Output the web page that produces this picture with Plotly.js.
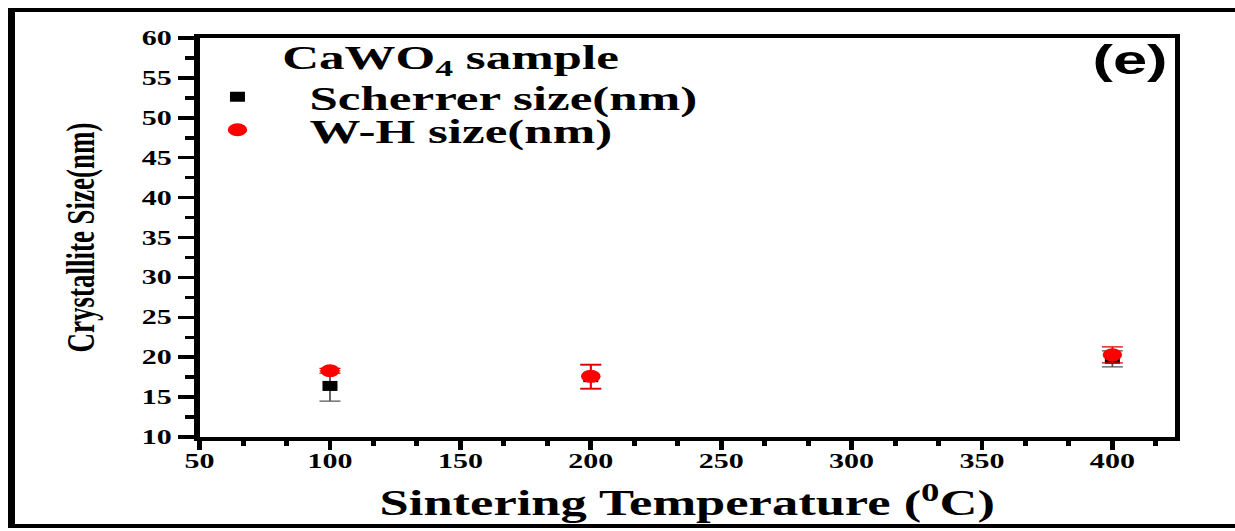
<!DOCTYPE html>
<html>
<head>
<meta charset="utf-8">
<script src="https://cdn.plot.ly/plotly-3.0.1.min.js"></script>
<style>
  html, body { margin: 0; padding: 0; background: #fff; }
  body { width: 1235px; height: 531px; position: relative; overflow: hidden; }
  #frame { position: absolute; left: 8px; top: 8px; right: 0; height: 520px; box-sizing: border-box;
           border-top: 4px solid #000; border-left: 7px solid #000; border-bottom: 4px solid #000; }
  #plot { position: absolute; left: 0; top: 0; width: 823px; height: 531px;
          transform: scaleX(1.5006); transform-origin: 0 0; }
</style>
</head>
<body>
<div id="frame"></div>
<div id="plot"></div>
<script>
// Data
const temperatures = [100, 200, 400];
const scherrerSize = [16.4, 17.5, 19.8];
const scherrerErr  = [1.9, 1.5, 1.0];
const whSize       = [18.3, 17.6, 20.3];
const whErr        = [0.3, 1.5, 1.0];
const seriesNames  = ['Scherrer size(nm)', 'W-H size(nm)'];
const sampleLabel  = 'CaWO<sub>4</sub> sample';
const panelLabel   = '(e)';

const serif = '"Liberation Serif", "Times New Roman", serif';

const traces = [
  {
    x: temperatures, y: scherrerSize, name: seriesNames[0], type: 'scatter', mode: 'markers',
    marker: { symbol: 'square', size: 10, color: '#000000' },
    error_y: { type: 'data', array: scherrerErr, visible: true, color: '#555555', thickness: 1.2, width: 7 },
    legend: 'legend'
  },
  {
    x: temperatures, y: whSize, name: seriesNames[1], type: 'scatter', mode: 'markers',
    marker: { symbol: 'circle', size: 13, color: '#ff0000' },
    error_y: { type: 'data', array: whErr, visible: true, color: '#e00000', thickness: 1.2, width: 7 },
    legend: 'legend2'
  }
];

const legendCommon = {
  font: { family: serif, size: 34, weight: 'bold', color: '#000' },
  bgcolor: 'rgba(0,0,0,0)', borderwidth: 0, itemwidth: 86,
  xanchor: 'left', yanchor: 'middle', itemclick: false
};

const layout = {
  width: 823, height: 531,
  margin: { l: 133, r: 40, t: 38, b: 94, pad: 0 },
  paper_bgcolor: 'rgba(0,0,0,0)', plot_bgcolor: 'rgba(0,0,0,0)',
  showlegend: true,
  legend: Object.assign({}, legendCommon, { x: -0.035, y: 0.852 }),
  legend2: Object.assign({}, legendCommon, { x: -0.035, y: 0.769 }),
  xaxis: {
    range: [50, 424], tick0: 50, dtick: 50, ticks: 'outside', ticklen: 9, tickwidth: 3.3, tickcolor: '#000',
    minor: { dtick: 50 / 3, ticks: 'outside', ticklen: 5, tickwidth: 3.3, tickcolor: '#000' },
    showline: true, linewidth: 4, linecolor: '#000', mirror: true, showgrid: false, zeroline: false,
    tickfont: { family: serif, size: 20, weight: 'bold', color: '#000' },
    ticklabelstandoff: -6,
    title: { text: 'Sintering Temperature (<sup>0</sup>C)', font: { family: serif, size: 35, weight: 'bold', color: '#000' }, standoff: 21 },
    automargin: true
  },
  yaxis: {
    range: [10, 60], tick0: 10, dtick: 5, ticks: 'outside', ticklen: 11, tickwidth: 3.5, tickcolor: '#000',
    minor: { dtick: 2.5, ticks: 'outside', ticklen: 6, tickwidth: 3.5, tickcolor: '#000' },
    showline: true, linewidth: 3.5, linecolor: '#000', mirror: true, showgrid: false, zeroline: false,
    tickfont: { family: serif, size: 20, weight: 'bold', color: '#000' },
    title: { text: 'Crystallite Size(nm)', font: { family: serif, size: 27, weight: 'bold', color: '#000' }, standoff: 24 },
    automargin: true
  },
  annotations: [
    { text: sampleLabel, xref: 'paper', yref: 'paper', x: 0.082, y: 0.945, xanchor: 'left', yanchor: 'middle',
      showarrow: false, font: { family: serif, size: 34, weight: 'bold', color: '#000' } },
    { text: panelLabel, xref: 'paper', yref: 'paper', x: 0.995, y: 0.945, xanchor: 'right', yanchor: 'middle',
      showarrow: false, font: { family: '"Liberation Sans", Arial, sans-serif', size: 41, weight: 'bold', color: '#000' } }
  ]
};

Plotly.newPlot('plot', traces, layout, { displayModeBar: false, staticPlot: true });
</script>
</body>
</html>
